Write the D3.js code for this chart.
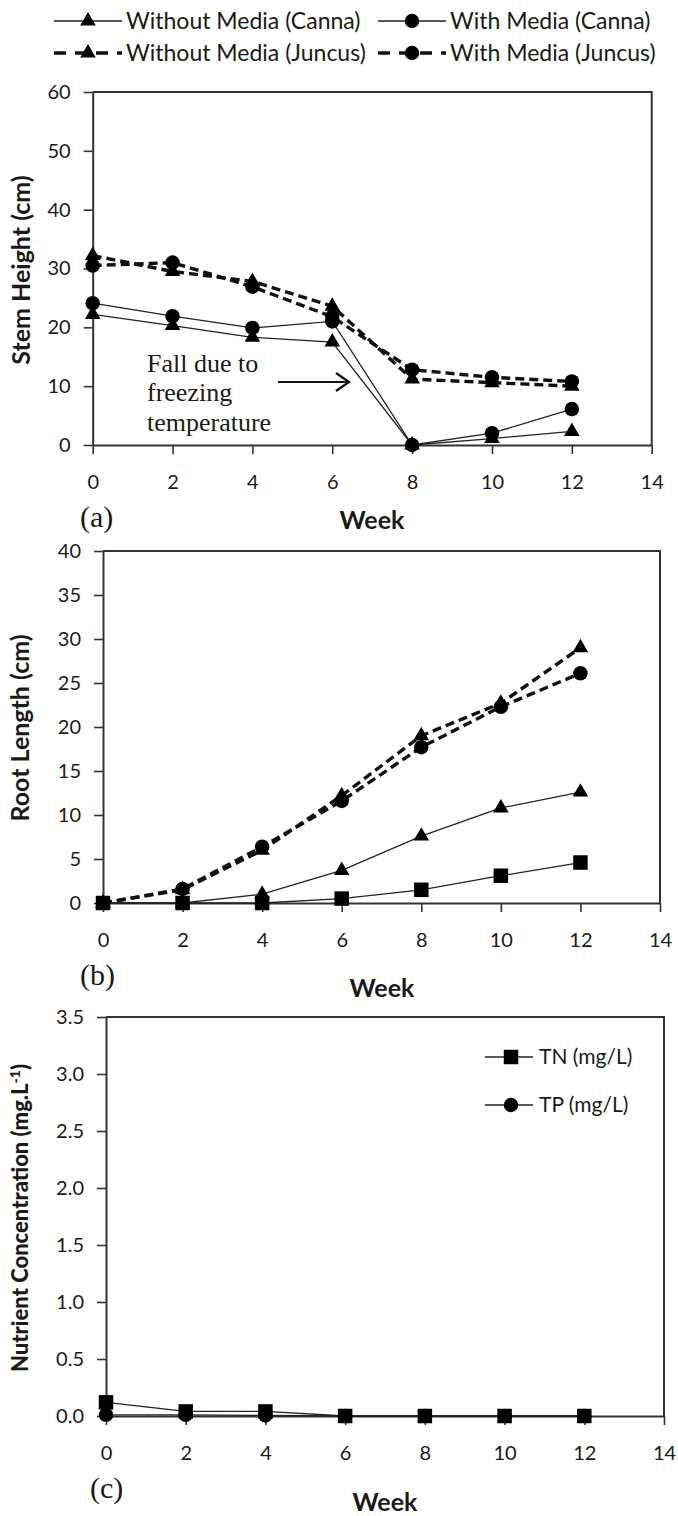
<!DOCTYPE html>
<html><head><meta charset="utf-8">
<script src="https://cdn.jsdelivr.net/npm/d3@7"></script>
<style>body{margin:0;background:#fff}</style>
</head><body><svg id="chart" width="678" height="1516"></svg>
<script>
// ---------- data ----------
const weeks = [0, 2, 4, 6, 8, 10, 12];
const xTickValues = [0, 2, 4, 6, 8, 10, 12, 14];

const stemCannaWithout  = [22.2, 20.3, 18.3, 17.5, 0, 1.1, 2.3];
const stemCannaWith     = [24.1, 21.9, 19.9, 21.0, 0, 2.0, 6.1];
const stemJuncusWithout = [32.2, 29.5, 27.8, 23.6, 11.2, 10.6, 10.0];
const stemJuncusWith    = [30.5, 31.0, 26.9, 21.8, 12.8, 11.5, 10.8];
const stemTicks = [0, 10, 20, 30, 40, 50, 60];

const rootJuncusWithout = [0, 1.5, 6.0, 12.2, 19.0, 22.7, 29.0];
const rootJuncusWith    = [0, 1.6, 6.4, 11.6, 17.7, 22.3, 26.1];
const rootCannaWithout  = [0, 0, 1.0, 3.7, 7.6, 10.8, 12.6];
const rootCannaWith     = [0, 0, 0, 0.5, 1.5, 3.1, 4.6];
const rootTicks = [0, 5, 10, 15, 20, 25, 30, 35, 40];

const nutrientTN = [0.12, 0.04, 0.04, 0, 0, 0, 0];
const nutrientTP = [0.01, 0.01, 0.005, 0, 0, 0, 0];
const nutrientTicks = [0, 0.5, 1.0, 1.5, 2.0, 2.5, 3.0, 3.5];

const legendLabels = ["Without Media (Canna)", "With Media (Canna)", "Without Media (Juncus)", "With Media (Juncus)"];
const nutrientLabels = ["TN (mg/L)", "TP (mg/L)"];
const annotationLines = ["Fall due to", "freezing", "temperature"];

// ---------- setup ----------
const svg = d3.select("#chart");
svg.append("rect").attr("width", 678).attr("height", 1516).attr("fill", "#fff");
const INK = "#1a1a1a";
const SANS = "Lato, 'Open Sans', sans-serif";
const SERIF = "'Liberation Serif', 'DejaVu Serif', serif";

const symbolSize = { tri: 105, circ: 165, sq: 210 };
const symbolType = { tri: d3.symbolTriangle, circ: d3.symbolCircle, sq: d3.symbolSquare };
const styles = {
  solid:  { width: 1.3, dash: null, color: "#222" },
  dashed: { width: 3.4, dash: "9,5", color: "#111" }
};

function drawPanel(box, yMax, yTicks, yFmt, series) {
  const x = d3.scaleLinear().domain([0, 14]).range([box.l, box.r]);
  const y = d3.scaleLinear().domain([0, yMax]).range([box.b, box.t]);
  const g = svg.append("g");

  g.append("path")
    .attr("d", `M${box.l},${box.t}H${box.r}V${box.b}`)
    .attr("fill", "none").attr("stroke", "#333").attr("stroke-width", 2);

  const ax = g.append("g").attr("transform", `translate(0,${box.b})`)
    .call(d3.axisBottom(x).tickValues(xTickValues).tickSize(9).tickSizeOuter(0)
      .tickPadding(21).tickFormat(d3.format("d")));
  const ay = g.append("g").attr("transform", `translate(${box.l},0)`)
    .call(d3.axisLeft(y).tickValues(yTicks).tickSize(9).tickSizeOuter(0)
      .tickPadding(13).tickFormat(yFmt));
  [ax, ay].forEach(a => {
    a.select(".domain").attr("stroke", "#333").attr("stroke-width", 2);
    a.selectAll(".tick line").attr("stroke", "#333").attr("stroke-width", 1.6);
    a.selectAll(".tick text").attr("fill", INK).attr("font-family", SANS).attr("font-size", 20);
  });

  const line = d3.line().x((d, i) => x(weeks[i])).y(d => y(d));
  series.forEach(s => {
    const st = styles[s.style];
    g.append("path").datum(s.values).attr("d", line)
      .attr("fill", "none").attr("stroke", st.color).attr("stroke-width", st.width)
      .attr("stroke-dasharray", st.dash);
  });
  series.forEach(s => {
    g.selectAll(null).data(s.values).enter().append("path")
      .attr("d", d3.symbol().type(symbolType[s.marker]).size(symbolSize[s.marker]))
      .attr("transform", (d, i) => `translate(${x(weeks[i])},${y(d)})`)
      .attr("fill", "#000");
  });
  return { x, y };
}

// ---------- legend (top) ----------
const legendItems = [
  { label: legendLabels[0], style: "solid",  marker: "tri",  lx: 54,  ly: 21 },
  { label: legendLabels[1], style: "solid",  marker: "circ", lx: 378, ly: 21 },
  { label: legendLabels[2], style: "dashed", marker: "tri",  lx: 54,  ly: 53 },
  { label: legendLabels[3], style: "dashed", marker: "circ", lx: 378, ly: 53 }
];
legendItems.forEach(it => {
  const st = styles[it.style];
  const len = 68;
  svg.append("line").attr("x1", it.lx).attr("x2", it.lx + len).attr("y1", it.ly).attr("y2", it.ly)
    .attr("stroke", st.color).attr("stroke-width", st.width).attr("stroke-dasharray", st.dash ? "12,9" : null);
  svg.append("path").attr("d", d3.symbol().type(symbolType[it.marker]).size(symbolSize[it.marker]))
    .attr("transform", `translate(${it.lx + len / 2},${it.ly})`).attr("fill", "#000");
  svg.append("text").attr("x", it.lx + len + 4).attr("y", it.ly).attr("dy", "0.35em")
    .attr("font-family", SANS).attr("font-size", 23).attr("fill", INK).text(it.label);
});

// ---------- panel (a) ----------
const boxA = { l: 92.7, r: 651.7, t: 92, b: 445 };
drawPanel(boxA, 60, stemTicks, d3.format("d"), [
  { values: stemJuncusWithout, style: "dashed", marker: "tri" },
  { values: stemJuncusWith,    style: "dashed", marker: "circ" },
  { values: stemCannaWithout,  style: "solid",  marker: "tri" },
  { values: stemCannaWith,     style: "solid",  marker: "circ" }
]);
svg.append("text").attr("transform", "translate(30,270) rotate(-90)").attr("text-anchor", "middle")
  .attr("font-family", SANS).attr("font-weight", "bold").attr("font-size", 25).attr("fill", INK)
  .text("Stem Height (cm)");
svg.append("text").attr("x", 372).attr("y", 529).attr("text-anchor", "middle")
  .attr("font-family", SANS).attr("font-weight", "bold").attr("font-size", 25).attr("fill", INK).text("Week");
svg.append("text").attr("x", 80).attr("y", 527)
  .attr("font-family", SERIF).attr("font-size", 30).attr("fill", INK).text("(a)");
annotationLines.forEach((t, i) => {
  svg.append("text").attr("x", 147).attr("y", [372, 401, 431][i])
    .attr("font-family", SERIF).attr("font-size", 26).attr("fill", INK).text(t);
});
svg.append("path").attr("d", "M278,382H349M336,373L349,382L336,391")
  .attr("fill", "none").attr("stroke", "#111").attr("stroke-width", 2.2);

// ---------- panel (b) ----------
const boxB = { l: 103, r: 660, t: 551, b: 903 };
drawPanel(boxB, 40, rootTicks, d3.format("d"), [
  { values: rootJuncusWithout, style: "dashed", marker: "tri" },
  { values: rootJuncusWith,    style: "dashed", marker: "circ" },
  { values: rootCannaWithout,  style: "solid",  marker: "tri" },
  { values: rootCannaWith,     style: "solid",  marker: "sq" }
]);
svg.append("text").attr("transform", "translate(29,728) rotate(-90)").attr("text-anchor", "middle")
  .attr("font-family", SANS).attr("font-weight", "bold").attr("font-size", 25).attr("fill", INK)
  .text("Root Length (cm)");
svg.append("text").attr("x", 382).attr("y", 997).attr("text-anchor", "middle")
  .attr("font-family", SANS).attr("font-weight", "bold").attr("font-size", 25).attr("fill", INK).text("Week");
svg.append("text").attr("x", 80).attr("y", 985)
  .attr("font-family", SERIF).attr("font-size", 30).attr("fill", INK).text("(b)");

// ---------- panel (c) ----------
const boxC = { l: 106, r: 664, t: 1017, b: 1416 };
drawPanel(boxC, 3.5, nutrientTicks, d3.format(".1f"), [
  { values: nutrientTP, style: "solid", marker: "circ" },
  { values: nutrientTN, style: "solid", marker: "sq" }
]);
const ct = svg.append("text").attr("transform", "translate(28,1218) rotate(-90)").attr("text-anchor", "middle")
  .attr("font-family", SANS).attr("font-weight", 900).attr("font-size", 22).attr("fill", INK);
ct.append("tspan").text("Nutrient Concentration  (mg.L");
ct.append("tspan").attr("font-size", 14).attr("dy", -8).text("-1");
ct.append("tspan").attr("dy", 8).text(")");
svg.append("text").attr("x", 385).attr("y", 1511).attr("text-anchor", "middle")
  .attr("font-family", SANS).attr("font-weight", "bold").attr("font-size", 25).attr("fill", INK).text("Week");
svg.append("text").attr("x", 90).attr("y", 1498)
  .attr("font-family", SERIF).attr("font-size", 30).attr("fill", INK).text("(c)");
[{ label: nutrientLabels[0], marker: "sq", ly: 1057 }, { label: nutrientLabels[1], marker: "circ", ly: 1105 }].forEach(it => {
  svg.append("line").attr("x1", 485).attr("x2", 533).attr("y1", it.ly).attr("y2", it.ly)
    .attr("stroke", "#222").attr("stroke-width", 1.5);
  svg.append("path").attr("d", d3.symbol().type(symbolType[it.marker]).size(symbolSize[it.marker]))
    .attr("transform", `translate(511,${it.ly})`).attr("fill", "#000");
  svg.append("text").attr("x", 539).attr("y", it.ly).attr("dy", "0.35em")
    .attr("font-family", SANS).attr("font-size", 21).attr("fill", INK).text(it.label);
});
</script></body></html>
